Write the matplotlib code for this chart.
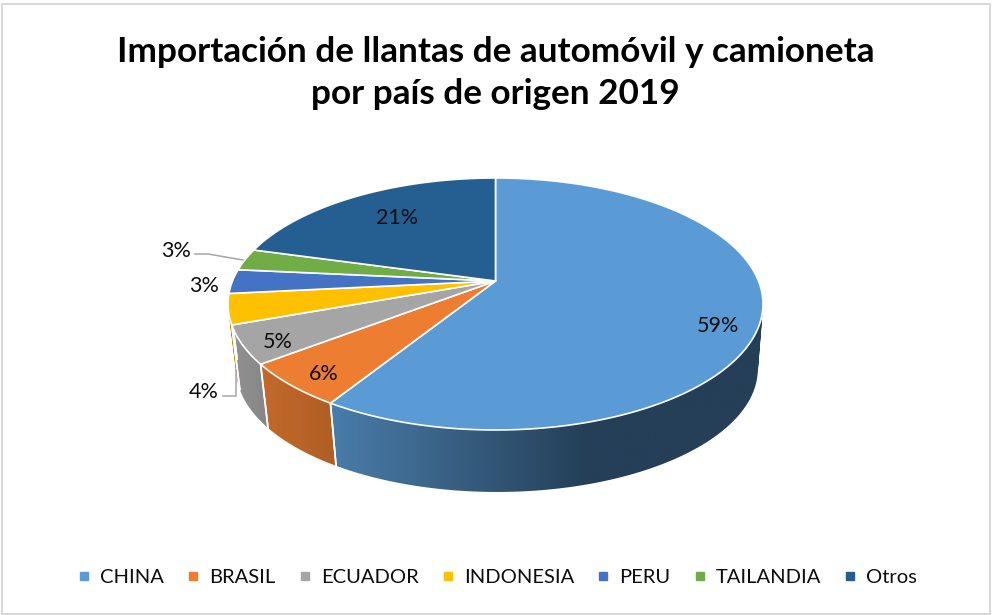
import matplotlib
matplotlib.use("Agg")
import matplotlib.pyplot as plt
from matplotlib.colors import to_rgb
from matplotlib.lines import Line2D
from matplotlib.patches import PathPatch, Polygon, Rectangle
from matplotlib.path import Path
import numpy as np

plt.rcParams["font.family"] = ["Lato", "DejaVu Sans"]

title = "Importación de llantas de automóvil y camioneta\npor país de origen 2019"
countries = ["CHINA", "BRASIL", "ECUADOR", "INDONESIA", "PERU", "TAILANDIA", "Otros"]
shares = [58.9, 5.7, 4.9, 3.9, 3.1, 2.8, 20.7]
top_colors = ["#5B9BD5", "#ED7D31", "#A5A5A5", "#FFC000", "#4472C4", "#70AD47", "#255E91"]
wall_left = ["#4A7DAB", "#C4692C", "#929292", "#BF9000", "#33569A", "#55803A", "#1C4870"]
wall_right = ["#243F57", "#AE5E24", "#858585", "#BF9000", "#33569A", "#55803A", "#1C4870"]
label_pos = [(718, 326), (324, 374), (278, 342), (204, 392), (204, 286), (176, 251), (397, 218)]

# perspective of the pie, all in picture pixels
cx, apex_y = 495.5, 281
rx, ry, k = 263, 121.8, 0.1825
base_cx, base_y, base_scale = 497, 346.7, 0.975


def rim(theta, bottom=False):
    d = 1 + k * np.sin(theta)
    if bottom:
        return (base_cx + base_scale * rx * np.cos(theta) / d,
                base_y - base_scale * ry * np.sin(theta) / d)
    return cx + rx * np.cos(theta) / d, apex_y - ry * np.sin(theta) / d


def wall_path(t):
    # thin quads all wound the same way, so the fold at the pie's sides stays filled
    xt, yt = rim(t)
    xb, yb = rim(t, True)
    parts = []
    for j in range(len(t) - 1):
        q = np.array([[xt[j], yt[j]], [xt[j + 1], yt[j + 1]], [xb[j + 1], yb[j + 1]], [xb[j], yb[j]]])
        x, y = q[:, 0], q[:, 1]
        if np.dot(x, np.roll(y, -1)) - np.dot(y, np.roll(x, -1)) < 0:
            q = q[::-1]
        parts.append(Path(np.vstack([q, q[0]]), closed=True))
    return Path.make_compound_path(*parts)


fig = plt.figure(figsize=(9.92, 6.15), dpi=100)
ax = fig.add_axes([0, 0, 1, 1])
ax.set_xlim(0, 992)
ax.set_ylim(615, 0)
ax.axis("off")

ax.add_patch(Rectangle((2, 3.5), 987.5, 610, fc="white", ec="#D9D9D9", lw=1.5, zorder=0))

edges = np.pi / 2 - 2 * np.pi * np.concatenate([[0], np.cumsum(shares)]) / np.sum(shares)

# side wall first, seen from behind to front
order = [4, 5, 6, 3, 2, 1, 0]
for i in order:
    t = np.linspace(edges[i], edges[i + 1], 160)
    path = wall_path(t)
    x0, y0 = path.vertices.min(axis=0)
    x1, y1 = path.vertices.max(axis=0)
    # the blue side goes dark at about x=590 and stays flat after that
    stop = 590 if i == 0 else x1
    xs = np.linspace(x0, x1, 400)
    f = np.clip((xs - x0) / (stop - x0), 0, 1)[:, None]
    grad = (1 - f) * np.array(to_rgb(wall_left[i])) + f * np.array(to_rgb(wall_right[i]))
    clip = PathPatch(path, transform=ax.transData, fc="none", ec="none")
    ax.add_patch(clip)
    im = ax.imshow(grad[None, :, :], extent=(x0, x1, y1, y0), aspect="auto", zorder=2,
                   interpolation="bilinear")
    im.set_clip_path(clip)
    for e in (edges[i], edges[i + 1]):
        if np.sin(e) < -0.05:
            xa, ya = rim(e)
            xc, yc = rim(e, True)
            ax.plot([xa, xc], [ya, yc], color="white", lw=1.2, zorder=3)
ax.set_xlim(0, 992)
ax.set_ylim(615, 0)

# top face
for i, c in enumerate(top_colors):
    t = np.linspace(edges[i], edges[i + 1], 200)
    xt, yt = rim(t)
    pts = np.column_stack([np.r_[cx, xt], np.r_[apex_y, yt]])
    ax.add_patch(Polygon(pts, closed=True, fc=c, ec="white", lw=1.2, joinstyle="round", zorder=4))

# leader lines
ax.plot([195, 208, 243], [254, 254, 260], color="#A6A6A6", lw=1.1, zorder=5)
ax.plot([223, 236, 236], [396, 396, 370], color="#A6A6A6", lw=1.1, zorder=5)

for share, (lx, ly) in zip(shares, label_pos):
    ax.text(lx, ly, f"{share:.0f}%", ha="center", va="center", fontsize=15.5, color="#0D0D0D", zorder=6)

ax.text(495.5, 73, title, ha="center", va="center", fontsize=25.3, fontweight="bold",
        color="black", linespacing=1.38, zorder=6)

handles = [Line2D([], [], ls="none", marker="s", ms=5.6, mfc=c, mec=c) for c in top_colors]
ax.legend(handles, countries, ncols=7, loc="center", bbox_to_anchor=(494.5 / 992, 1 - 577 / 615),
          frameon=False, fontsize=14.5, handletextpad=0.2, columnspacing=0.85, labelcolor="#0D0D0D",
          handlelength=1.2, borderpad=0, borderaxespad=0)

fig.savefig("out.png", dpi=100)
